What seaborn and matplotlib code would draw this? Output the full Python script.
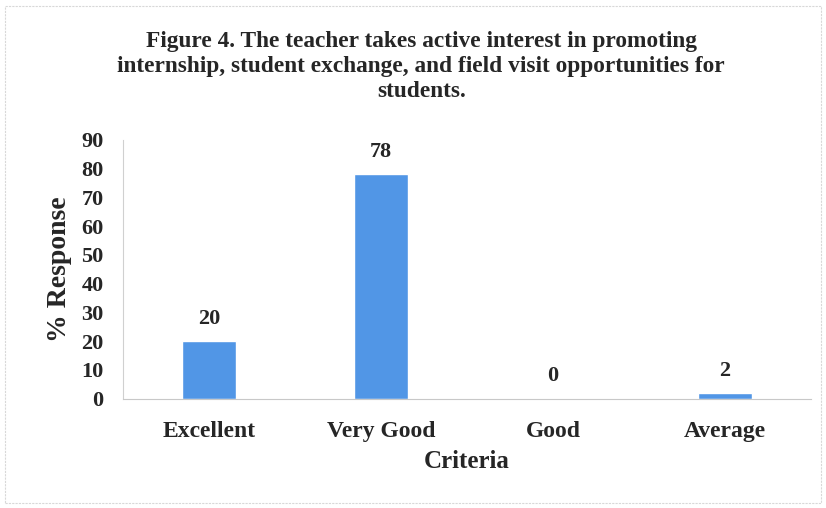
import pandas as pd
import seaborn as sns
import matplotlib.pyplot as plt
from matplotlib.patches import Rectangle

# Data
criteria = ['Excellent', 'Very Good', 'Good', 'Average']
response = [20, 78, 0, 2]

df = pd.DataFrame({'Criteria': criteria, 'Response': response})

sns.set_theme(style='white')
plt.rcParams['font.family'] = ['Liberation Serif', 'DejaVu Serif']
plt.rcParams['font.weight'] = 'bold'

fig = plt.figure(figsize=(8.26, 5.08), dpi=100)
ax = fig.add_axes([0.149, 0.215, 0.833, 0.51])

sns.barplot(data=df, x='Criteria', y='Response', color='#5196E6',
            width=0.31, saturation=1, ax=ax)

# value labels above bars
for i, v in enumerate(response):
    ax.text(i, v + 4.3, str(v), ha='center', va='bottom',
            fontsize=16, fontweight='bold', color='#262626')

ax.set_ylim(0, 90)
ax.set_yticks(range(0, 91, 10))
ax.tick_params(axis='y', labelsize=16, length=0, pad=14, labelcolor='#262626')
ax.tick_params(axis='x', labelsize=17, length=0, pad=16, labelcolor='#262626')
for lbl in ax.get_xticklabels() + ax.get_yticklabels():
    lbl.set_fontweight('bold')

ax.set_xlabel('Criteria', fontsize=18, fontweight='bold', color='#262626', labelpad=6)
ax.set_ylabel('% Response', fontsize=20, fontweight='bold', color='#262626', labelpad=7)

for side in ['top', 'right']:
    ax.spines[side].set_visible(False)
ax.spines['left'].set_color('#d0d0d0')
ax.spines['left'].set_linewidth(0.8)
ax.spines['bottom'].set_color('#c8c8c8')
ax.spines['bottom'].set_linewidth(0.8)
ax.spines['bottom'].set_linestyle((0, (2, 1)))

fig.text(0.51, 1 - 31 / 508,
         'Figure 4. The teacher takes active interest in promoting\n'
         'internship, student exchange, and field visit opportunities for\n'
         'students.', ha='center', va='top', fontsize=16.8, fontweight='bold',
         color='#262626', linespacing=1.25)

# light frame around the chart
fig.patches.append(Rectangle((0.006, 0.01), 0.988, 0.978, transform=fig.transFigure,
                             fill=False, edgecolor='#d8d8d8', linewidth=0.8,
                             linestyle=(0, (2, 1))))

fig.savefig('out.png', dpi=100)
